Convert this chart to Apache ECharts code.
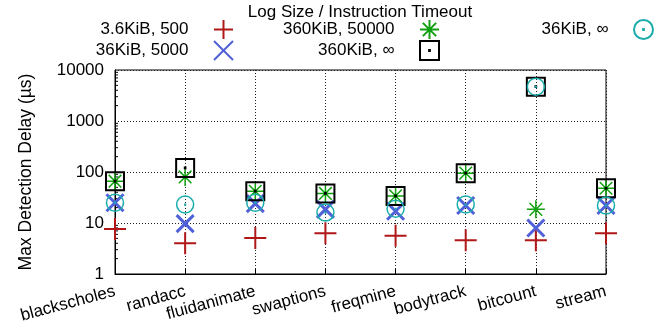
<!DOCTYPE html>
<html>
<head>
<meta charset="utf-8">
<script src="https://cdn.jsdelivr.net/npm/echarts@6/dist/echarts.min.js"></script>
<style>
  html, body { margin: 0; padding: 0; background: #fff; }
  #chart { width: 656px; height: 329px; }
</style>
</head>
<body>
<div id="chart"></div>
<script>
// Benchmarks on the x axis
const benchmarks = ['blackscholes', 'randacc', 'fluidanimate', 'swaptions', 'freqmine', 'bodytrack', 'bitcount', 'stream'];

// Max detection delay (µs) per log size / instruction timeout
const delay36k500    = [7.6, 4.0, 5.1, 6.3, 5.6, 4.6, 4.6, 6.3];   // 3.6KiB, 500
const delay36k5000   = [25, 9.7, 24, 18.5, 17, 22, 8, 22];         // 36KiB, 5000
const delay360k50000 = [66, 80, 42, 38, 34, 95, 18.5, 48];         // 360KiB, 50000
const delay360kInf   = [66, 120, 42, 38, 34, 95, 4700, 48];        // 360KiB, ∞
const delay36kInf    = [25, 23, 25, 16, 19, 23, 4700, 22];         // 36KiB, ∞

const seriesNames = ['3.6KiB, 500', '36KiB, 5000', '360KiB, 50000', '360KiB, ∞', '36KiB, ∞'];
const yTickValues = [1, 10, 100, 1000, 10000];

const FONT = '"Liberation Sans", Arial, Helvetica, sans-serif';
const FS = 17;

// Point shapes
const PLUS = 'path://M0 50L100 50M50 0L50 100';
const CROSS = 'path://M0 0L100 100M100 0L0 100';
const STAR = 'path://M0 50L100 50M50 0L50 100M15 15L85 85M85 15L15 85';
const BOXDOT = 'path://M0 0L100 0L100 100L0 100ZM48 48L52 48L52 52L48 52Z';
const CIRCDOT = 'path://M0 50A50 50 0 1 1 100 50A50 50 0 1 1 0 50ZM48 48L52 48L52 52L48 52Z';

function pointSeries(name, values, symbol, size, color, width) {
  return {
    type: 'scatter',
    name: name,
    data: values,
    symbol: symbol,
    symbolSize: size,
    symbolKeepAspect: true,
    silent: true,
    itemStyle: { color: 'transparent', borderColor: color, borderWidth: width, opacity: 1 },
    emphasis: { disabled: true }
  };
}

const legendBase = {
  orient: 'vertical',
  align: 'right',
  top: 19,
  itemWidth: 60,
  itemHeight: 19,
  itemGap: 0,
  padding: 0,
  selectedMode: false,
  textStyle: { fontFamily: FONT, fontSize: FS, color: '#000' }
};

const chart = echarts.init(document.getElementById('chart'), null, { renderer: 'canvas' });

chart.setOption({
  animation: false,
  backgroundColor: '#fff',
  textStyle: { fontFamily: FONT },
  title: {
    text: 'Log Size / Instruction Timeout',
    left: 360,
    textAlign: 'center',
    top: 4,
    padding: 0,
    textStyle: { fontFamily: FONT, fontSize: FS, fontWeight: 'normal', color: '#000' }
  },
  legend: [
    Object.assign({}, legendBase, { right: 422, data: [seriesNames[0], seriesNames[1]] }),
    Object.assign({}, legendBase, { right: 216, data: [seriesNames[2], seriesNames[3]] }),
    Object.assign({}, legendBase, { right: 2, data: [seriesNames[4]] })
  ],
  grid: {
    left: 115, right: 50, top: 70, bottom: 55,
    show: true, borderColor: '#000', borderWidth: 1, backgroundColor: 'transparent'
  },
  xAxis: {
    type: 'category',
    data: benchmarks,
    boundaryGap: false,
    axisLine: { lineStyle: { color: '#000', width: 1 } },
    axisTick: { inside: true, length: 5, lineStyle: { color: '#000' } },
    axisLabel: { rotate: 15, fontSize: FS, color: '#000', margin: 17, fontFamily: FONT, interval: 0 },
    splitLine: { show: true, lineStyle: { color: '#222', type: [1, 2], width: 1 } }
  },
  yAxis: {
    type: 'log',
    logBase: 10,
    min: 1,
    max: 10000,
    name: 'Max Detection Delay (µs)',
    nameLocation: 'middle',
    nameGap: 80,
    nameTextStyle: { fontSize: 17.5, color: '#000', fontFamily: FONT },
    axisLine: { show: true, lineStyle: { color: '#000', width: 1 } },
    axisTick: { inside: true, length: 5, lineStyle: { color: '#000' } },
    axisLabel: {
      fontSize: FS, color: '#000', margin: 11, fontFamily: FONT,
      formatter: v => String(Math.round(v))
    },
    splitLine: { show: true, lineStyle: { color: '#222', type: [1, 2], width: 1 } }
  },
  series: [
    pointSeries(seriesNames[0], delay36k500, PLUS, 22, '#b01818', 2),
    pointSeries(seriesNames[1], delay36k5000, CROSS, 17, '#5060d8', 3),
    pointSeries(seriesNames[2], delay360k50000, STAR, 18, '#10a010', 1.5),
    pointSeries(seriesNames[3], delay360kInf, BOXDOT, 18, '#000', 2),
    pointSeries(seriesNames[4], delay36kInf, CIRCDOT, 17, '#1aacac', 1.5)
  ]
});

// Minor log ticks (2..9 per decade) along the left axis
const minorTicks = [];
for (let d = 0; d < yTickValues.length - 1; d++) {
  for (let k = 2; k <= 9; k++) {
    const v = yTickValues[d] * k;
    const p = chart.convertToPixel({ xAxisIndex: 0, yAxisIndex: 0 }, [0, v]);
    minorTicks.push({
      type: 'line',
      shape: { x1: p[0], y1: p[1], x2: p[0] + 3, y2: p[1] },
      style: { stroke: '#000', lineWidth: 1 },
      silent: true
    });
  }
}
chart.setOption({ graphic: minorTicks });
</script>
</body>
</html>
